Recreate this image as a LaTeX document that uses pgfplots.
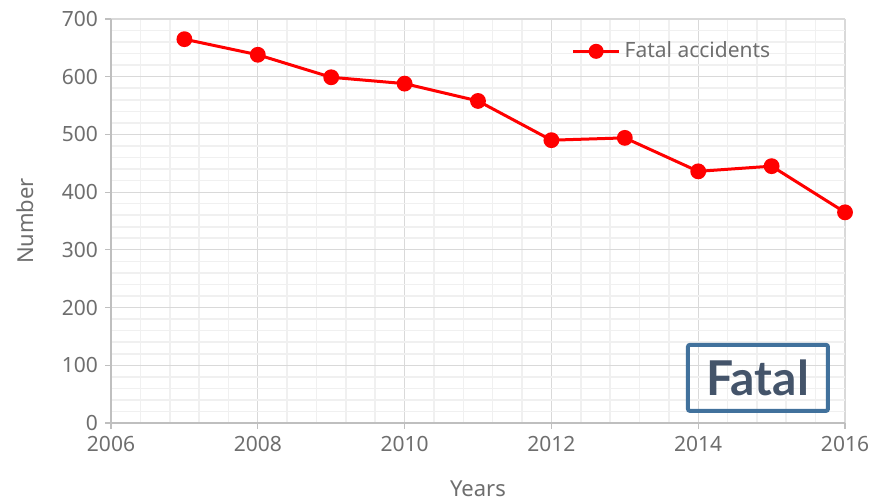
\documentclass[border=0pt]{standalone}
\usepackage{fontspec}
\setmainfont{Noto Sans}
\newfontfamily\boxfont{Lato}
\usepackage{pgfplots}
\pgfplotsset{compat=1.18}
\usetikzlibrary{calc}
\definecolor{txt}{HTML}{6E6E6E}
\definecolor{axl}{HTML}{BFBFBF}
\definecolor{majg}{HTML}{D9D9D9}
\definecolor{ming}{HTML}{F0F0F0}
\definecolor{boxb}{HTML}{41719C}
\definecolor{boxt}{HTML}{44546A}
\begin{document}
\begin{tikzpicture}
\begin{axis}[
  scale only axis,
  width=367pt, height=202pt,
  xmin=2006, xmax=2016, ymin=0, ymax=700,
  xtick={2006,2008,...,2016},
  ytick={0,100,...,700},
  minor x tick num=4,
  minor y tick num=4,
  grid=both,
  major grid style={majg, line width=0.6pt},
  minor grid style={ming, line width=0.8pt},
  axis x line*=bottom, axis y line*=left,
  axis line style={axl, line width=0.8pt, -},
  tick style={axl, line width=0.6pt},
  major tick length=3pt,
  tick align=outside,
  minor tick length=0pt,
  x tick label style={/pgf/number format/1000 sep={}},
  tick label style={font=\fontsize{10.5}{12}\selectfont, text=txt},
  /pgf/number format/assume math mode=true,
  xlabel={Years}, ylabel={Number},
  label style={font=\fontsize{11}{13}\selectfont, text=txt},
  xlabel style={yshift=-8pt},
  ylabel style={yshift=7pt},
  legend style={draw=none, fill=none, at={(rel axis cs:0.627,0.92)}, anchor=west, font=\fontsize{10.5}{12}\selectfont, text=txt, inner xsep=0pt},
  legend cell align=left,
  legend image code/.code={
    \draw[red, line width=1.5pt] (0cm,0cm) -- (23pt,0cm);
    \fill[red] (11.5pt,0cm) circle (3pt);
  },
]
\addplot[red, line width=1.5pt, mark=*, mark size=3.2pt, mark options={fill=red, draw=red}] coordinates {
(2007,665) (2008,638) (2009,599) (2010,588) (2011,558) (2012,490) (2013,494) (2014,436) (2015,445) (2016,365)
};
\addlegendentry{Fatal accidents}
\node[draw=boxb, line width=2pt, rounded corners=1pt, inner xsep=7pt, inner ysep=3pt, text=boxt, font=\boxfont\fontsize{24}{28}\selectfont\bfseries, minimum width=70pt, minimum height=33pt, anchor=south east] at (rel axis cs:0.9795,0.025) {Fatal};
\coordinate (ll) at (rel axis cs:0,0);
\coordinate (ur) at (rel axis cs:1,1);
\end{axis}
\pgfresetboundingbox
\useasboundingbox ($(ll)+(-55.5pt,-39.5pt)$) rectangle ($(ur)+(12.5pt,9.5pt)$);
\end{tikzpicture}
\end{document}
